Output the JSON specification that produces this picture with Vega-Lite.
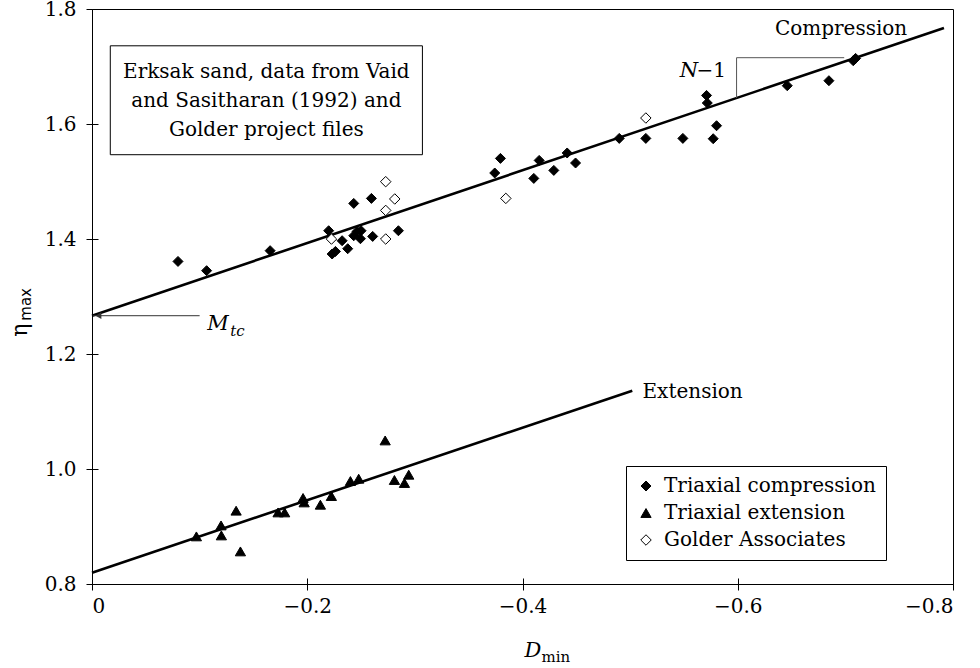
{
  "$schema": "https://vega.github.io/schema/vega-lite/v6.json",
  "width": 861,
  "height": 575,
  "autosize": "none",
  "padding": {"left": 92, "top": 9, "right": 27, "bottom": 84},
  "background": "white",
  "config": {
    "view": {"stroke": "black", "strokeWidth": 1},
    "axis": {
      "domainColor": "black", "tickColor": "black", "labelColor": "black",
      "labelFont": "DejaVu Serif", "labelFontSize": 20, "tickSize": 6, "tickWidth": 1, "domainWidth": 1
    },
    "legend": {
      "title": null, "orient": "none", "legendX": 534, "legendY": 457, "strokeColor": "black", "fillColor": "white",
      "padding": 10, "rowPadding": 7, "labelFont": "DejaVu Serif", "labelFontSize": 20, "labelColor": "black",
      "labelOffset": 8, "symbolStrokeColor": "black", "symbolStrokeWidth": 1, "labelLimit": 400
    }
  },
  "datasets": {
    "points": [
      {"series": "Triaxial compression", "D": -0.0799, "eta": 1.361},
      {"series": "Triaxial compression", "D": -0.1065, "eta": 1.3449},
      {"series": "Triaxial compression", "D": -0.1655, "eta": 1.3797},
      {"series": "Triaxial compression", "D": -0.2199, "eta": 1.4144},
      {"series": "Triaxial compression", "D": -0.2231, "eta": 1.3739},
      {"series": "Triaxial compression", "D": -0.2262, "eta": 1.3784},
      {"series": "Triaxial compression", "D": -0.2324, "eta": 1.397},
      {"series": "Triaxial compression", "D": -0.2376, "eta": 1.3831},
      {"series": "Triaxial compression", "D": -0.2432, "eta": 1.4619},
      {"series": "Triaxial compression", "D": -0.2432, "eta": 1.4057},
      {"series": "Triaxial compression", "D": -0.2463, "eta": 1.4132},
      {"series": "Triaxial compression", "D": -0.25, "eta": 1.4144},
      {"series": "Triaxial compression", "D": -0.2494, "eta": 1.4005},
      {"series": "Triaxial compression", "D": -0.2596, "eta": 1.4706},
      {"series": "Triaxial compression", "D": -0.2608, "eta": 1.4045},
      {"series": "Triaxial compression", "D": -0.2847, "eta": 1.4144},
      {"series": "Triaxial compression", "D": -0.3795, "eta": 1.5402},
      {"series": "Triaxial compression", "D": -0.3742, "eta": 1.5148},
      {"series": "Triaxial compression", "D": -0.4105, "eta": 1.5054},
      {"series": "Triaxial compression", "D": -0.4155, "eta": 1.5367},
      {"series": "Triaxial compression", "D": -0.4291, "eta": 1.5193},
      {"series": "Triaxial compression", "D": -0.4415, "eta": 1.5496},
      {"series": "Triaxial compression", "D": -0.4493, "eta": 1.5322},
      {"series": "Triaxial compression", "D": -0.4899, "eta": 1.575},
      {"series": "Triaxial compression", "D": -0.5146, "eta": 1.575},
      {"series": "Triaxial compression", "D": -0.549, "eta": 1.575},
      {"series": "Triaxial compression", "D": -0.571, "eta": 1.6497},
      {"series": "Triaxial compression", "D": -0.5717, "eta": 1.6365},
      {"series": "Triaxial compression", "D": -0.5803, "eta": 1.597},
      {"series": "Triaxial compression", "D": -0.5772, "eta": 1.5744},
      {"series": "Triaxial compression", "D": -0.646, "eta": 1.6666},
      {"series": "Triaxial compression", "D": -0.6847, "eta": 1.6753},
      {"series": "Triaxial compression", "D": -0.7073, "eta": 1.7101},
      {"series": "Triaxial compression", "D": -0.7095, "eta": 1.7141},
      {"series": "Triaxial extension", "D": -0.097, "eta": 0.8828},
      {"series": "Triaxial extension", "D": -0.1199, "eta": 0.9019},
      {"series": "Triaxial extension", "D": -0.1202, "eta": 0.8845},
      {"series": "Triaxial extension", "D": -0.1339, "eta": 0.9275},
      {"series": "Triaxial extension", "D": -0.1379, "eta": 0.8567},
      {"series": "Triaxial extension", "D": -0.1729, "eta": 0.9245},
      {"series": "Triaxial extension", "D": -0.179, "eta": 0.9245},
      {"series": "Triaxial extension", "D": -0.1961, "eta": 0.9496},
      {"series": "Triaxial extension", "D": -0.1971, "eta": 0.9419},
      {"series": "Triaxial extension", "D": -0.2122, "eta": 0.9379},
      {"series": "Triaxial extension", "D": -0.2224, "eta": 0.953},
      {"series": "Triaxial extension", "D": -0.2401, "eta": 0.9791},
      {"series": "Triaxial extension", "D": -0.2478, "eta": 0.9831},
      {"series": "Triaxial extension", "D": -0.2724, "eta": 1.0497},
      {"series": "Triaxial extension", "D": -0.281, "eta": 0.9809},
      {"series": "Triaxial extension", "D": -0.2903, "eta": 0.9757},
      {"series": "Triaxial extension", "D": -0.2943, "eta": 0.9901},
      {"series": "Golder Associates", "D": -0.2225, "eta": 1.3999},
      {"series": "Golder Associates", "D": -0.2729, "eta": 1.4997},
      {"series": "Golder Associates", "D": -0.2813, "eta": 1.4696},
      {"series": "Golder Associates", "D": -0.2729, "eta": 1.4497},
      {"series": "Golder Associates", "D": -0.2729, "eta": 1.4},
      {"series": "Golder Associates", "D": -0.3845, "eta": 1.4706},
      {"series": "Golder Associates", "D": -0.5146, "eta": 1.6104}
    ],
    "lines": [
      {"line": "Compression", "D": 0, "eta": 1.2666},
      {"line": "Compression", "D": -0.7916, "eta": 1.767},
      {"line": "Extension", "D": 0, "eta": 0.8197},
      {"line": "Extension", "D": -0.502, "eta": 1.1362}
    ],
    "bracket": [
      {"step": 1, "D": -0.5989, "eta": 1.6451},
      {"step": 2, "D": -0.5989, "eta": 1.7153},
      {"step": 3, "D": -0.6989, "eta": 1.7153}
    ],
    "box": [{"D1": -0.017, "D2": -0.307, "e1": 1.736, "e2": 1.5466}],
    "arrow": [{"D1": -0.001, "D2": -0.1, "eta": 1.2666}],
    "arrowhead": [{"D": -0.006, "eta": 1.2666}],
    "centerText": [
      {"text": "Erksak sand, data from Vaid", "D": -0.162, "eta": 1.6805},
      {"text": "and Sasitharan (1992) and", "D": -0.162, "eta": 1.630},
      {"text": "Golder project files", "D": -0.162, "eta": 1.5797},
      {"text": "Compression", "D": -0.696, "eta": 1.7553}
    ],
    "leftText": [
      {"text": "Extension", "D": -0.5115, "eta": 1.124},
      {"text": "−1", "D": -0.5617, "eta": 1.6823}
    ],
    "italicText": [
      {"text": "N", "D": -0.546, "eta": 1.6823},
      {"text": "M", "D": -0.1072, "eta": 1.2423}
    ],
    "italicSub": [{"text": "tc", "D": -0.1285, "eta": 1.2318}],
    "xTitle": [{"text": "D", "D": -0.4018, "eta": 0.6736}],
    "xTitleSub": [{"text": "min", "D": -0.4177, "eta": 0.6649}],
    "yTitle": [{"text": "η", "D": 0.0601, "eta": 1.2301}],
    "yTitleSub": [{"text": "max", "D": 0.0564, "eta": 1.2579}]
  },
  "layer": [
    {
      "data": {"name": "box"},
      "mark": {"type": "rect", "fill": "white", "stroke": "black", "strokeWidth": 1},
      "encoding": {
        "x": {"field": "D1", "type": "quantitative", "scale": {"domain": [0, -0.8], "nice": false, "zero": false},
          "axis": {"values": [0, -0.2, -0.4, -0.6, -0.8], "format": ".1~f", "title": null, "grid": true, "gridColor": "black", "gridWidth": 1, "gridDash": [0, 569, 6, 3000], "labelPadding": 6}},
        "x2": {"field": "D2"},
        "y": {"field": "e1", "type": "quantitative", "scale": {"domain": [0.8, 1.8], "nice": false, "zero": false},
          "axis": {"values": [0.8, 1.0, 1.2, 1.4, 1.6, 1.8], "format": ".1f", "title": null, "grid": true, "gridColor": "black", "gridWidth": 1, "gridDash": [6, 3000], "labelPadding": 10}},
        "y2": {"field": "e2"}
      }
    },
    {
      "data": {"name": "lines"},
      "mark": {"type": "line", "color": "black", "strokeWidth": 2.6},
      "encoding": {
        "x": {"field": "D", "type": "quantitative"},
        "y": {"field": "eta", "type": "quantitative"},
        "detail": {"field": "line"}
      }
    },
    {
      "data": {"name": "bracket"},
      "mark": {"type": "line", "color": "#555555", "strokeWidth": 1},
      "encoding": {
        "x": {"field": "D", "type": "quantitative"},
        "y": {"field": "eta", "type": "quantitative"},
        "order": {"field": "step"}
      }
    },
    {
      "data": {"name": "arrow"},
      "mark": {"type": "rule", "color": "#333333", "strokeWidth": 1},
      "encoding": {
        "x": {"field": "D1", "type": "quantitative"},
        "x2": {"field": "D2"},
        "y": {"field": "eta", "type": "quantitative"}
      }
    },
    {
      "data": {"name": "arrowhead"},
      "mark": {"type": "point", "shape": "triangle-left", "filled": true, "color": "#333333", "size": 45, "opacity": 1},
      "encoding": {
        "x": {"field": "D", "type": "quantitative"},
        "y": {"field": "eta", "type": "quantitative"}
      }
    },
    {
      "data": {"name": "points"},
      "mark": {"type": "point", "filled": true, "strokeWidth": 1, "opacity": 1},
      "encoding": {
        "x": {"field": "D", "type": "quantitative"},
        "y": {"field": "eta", "type": "quantitative"},
        "shape": {"field": "series", "type": "nominal",
          "scale": {"domain": ["Triaxial compression", "Triaxial extension", "Golder Associates"], "range": ["diamond", "triangle-up", "diamond"]}},
        "fill": {"field": "series", "type": "nominal",
          "scale": {"domain": ["Triaxial compression", "Triaxial extension", "Golder Associates"], "range": ["black", "black", "white"]}},
        "stroke": {"field": "series", "type": "nominal",
          "scale": {"domain": ["Triaxial compression", "Triaxial extension", "Golder Associates"], "range": ["black", "black", "black"]}},
        "size": {"field": "series", "type": "nominal",
          "scale": {"domain": ["Triaxial compression", "Triaxial extension", "Golder Associates"], "range": [100, 110, 60]}}
      }
    },
    {
      "data": {"name": "centerText"},
      "mark": {"type": "text", "font": "DejaVu Serif", "fontSize": 20, "align": "center", "baseline": "alphabetic", "color": "black"},
      "encoding": {
        "x": {"field": "D", "type": "quantitative"},
        "y": {"field": "eta", "type": "quantitative"},
        "text": {"field": "text"}
      }
    },
    {
      "data": {"name": "leftText"},
      "mark": {"type": "text", "font": "DejaVu Serif", "fontSize": 20, "align": "left", "baseline": "alphabetic", "color": "black"},
      "encoding": {
        "x": {"field": "D", "type": "quantitative"},
        "y": {"field": "eta", "type": "quantitative"},
        "text": {"field": "text"}
      }
    },
    {
      "data": {"name": "italicText"},
      "mark": {"type": "text", "font": "DejaVu Serif", "fontSize": 21, "fontStyle": "italic", "align": "left", "baseline": "alphabetic", "color": "black"},
      "encoding": {
        "x": {"field": "D", "type": "quantitative"},
        "y": {"field": "eta", "type": "quantitative"},
        "text": {"field": "text"}
      }
    },
    {
      "data": {"name": "italicSub"},
      "mark": {"type": "text", "font": "DejaVu Serif", "fontSize": 15, "fontStyle": "italic", "align": "left", "baseline": "alphabetic", "color": "black"},
      "encoding": {
        "x": {"field": "D", "type": "quantitative"},
        "y": {"field": "eta", "type": "quantitative"},
        "text": {"field": "text"}
      }
    },
    {
      "data": {"name": "xTitle"},
      "mark": {"type": "text", "font": "DejaVu Serif", "fontSize": 21, "fontStyle": "italic", "align": "left", "baseline": "alphabetic", "color": "black"},
      "encoding": {
        "x": {"field": "D", "type": "quantitative"},
        "y": {"field": "eta", "type": "quantitative"},
        "text": {"field": "text"}
      }
    },
    {
      "data": {"name": "xTitleSub"},
      "mark": {"type": "text", "font": "DejaVu Serif", "fontSize": 15, "align": "left", "baseline": "alphabetic", "color": "black"},
      "encoding": {
        "x": {"field": "D", "type": "quantitative"},
        "y": {"field": "eta", "type": "quantitative"},
        "text": {"field": "text"}
      }
    },
    {
      "data": {"name": "yTitle"},
      "mark": {"type": "text", "font": "DejaVu Serif", "fontSize": 22, "angle": 270, "align": "left", "baseline": "alphabetic", "color": "black"},
      "encoding": {
        "x": {"field": "D", "type": "quantitative"},
        "y": {"field": "eta", "type": "quantitative"},
        "text": {"field": "text"}
      }
    },
    {
      "data": {"name": "yTitleSub"},
      "mark": {"type": "text", "font": "DejaVu Sans", "fontSize": 15, "angle": 270, "align": "left", "baseline": "alphabetic", "color": "black"},
      "encoding": {
        "x": {"field": "D", "type": "quantitative"},
        "y": {"field": "eta", "type": "quantitative"},
        "text": {"field": "text"}
      }
    }
  ]
}
